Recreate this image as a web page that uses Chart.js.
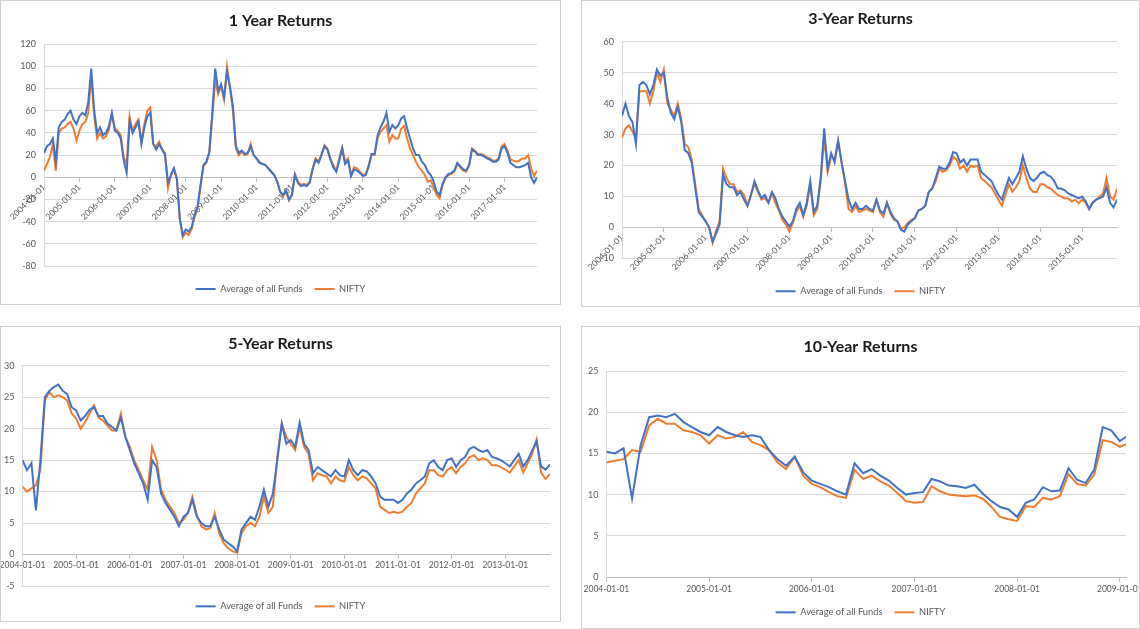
<!DOCTYPE html>
<html>
<head>
<meta charset="utf-8">
<script src="https://cdn.jsdelivr.net/npm/chart.js@4.4.0/dist/chart.umd.min.js"></script>
<style>
html,body{margin:0;padding:0;background:#fff;}
body{width:1140px;height:629px;position:relative;overflow:hidden;font-family:Lato,sans-serif;}
.panel{position:absolute;box-sizing:border-box;border:1px solid #d0d0d0;background:#fff;overflow:hidden;}
.panel canvas{display:block;}
</style>
</head>
<body>
<div class="panel" style="left:0;top:0;width:561px;height:305px"><canvas id="c1" width="559" height="303"></canvas></div>
<div class="panel" style="left:581px;top:0;width:559px;height:307px"><canvas id="c3" width="557" height="305"></canvas></div>
<div class="panel" style="left:0;top:326px;width:561px;height:296px"><canvas id="c5" width="559" height="294"></canvas></div>
<div class="panel" style="left:581px;top:326px;width:559px;height:303px"><canvas id="c10" width="557" height="301"></canvas></div>
<script>
// ---------- DATA (monthly readings, first value = January of start year) ----------
const seriesNames = ['Average of all Funds', 'NIFTY'];

// 1 Year Returns: 2004-01 .. 2017-12
const start1 = 2004;
const xLabels1 = ['2004-01-01','2005-01-01','2006-01-01','2007-01-01','2008-01-01','2009-01-01','2010-01-01','2011-01-01','2012-01-01','2013-01-01','2014-01-01','2015-01-01','2016-01-01','2017-01-01'];
const fund1 = [
  22,28,30,35,14,45,50,52,57,60,52,48,
  55,58,56,68,98,60,40,45,38,40,46,58,
  42,40,35,15,4,50,40,45,50,30,45,55,
  58,30,25,30,25,20,-5,2,8,-1,-37,-52,
  -47,-49,-45,-34,-27,-7,11,14,23,58,98,78,
  84,72,95,82,64,28,22,24,21,22,28,20,
  17,13,12,11,8,5,2,-4,-13,-16,-12,-20,
  -16,2,-5,-8,-7,-8,-5,7,16,13,20,28,
  25,16,9,5,15,26,12,15,1,7,6,4,
  1,2,10,21,21,38,45,50,58,41,47,44,
  47,53,55,44,35,26,20,20,14,11,5,2,
  -4,-13,-16,-6,0,3,4,6,13,10,7,6,
  11,25,23,20,20,19,17,16,14,14,16,26,
  28,22,13,11,9,9,10,11,13,0,-5,0
];
const nifty1 = [
  6,12,18,30,6,40,44,45,48,50,44,33,
  42,48,50,58,92,55,35,40,35,37,43,57,
  44,42,38,18,12,55,42,48,52,32,48,60,
  63,30,28,32,25,22,-10,2,8,-2,-38,-54,
  -50,-52,-47,-36,-28,-9,10,13,22,54,88,75,
  82,70,100,80,60,26,20,23,20,21,30,20,
  17,14,12,11,8,5,2,-4,-13,-17,-13,-21,
  -15,3,-4,-7,-6,-7,-4,8,17,14,21,29,
  26,17,11,6,17,27,14,17,2,9,8,5,
  2,3,11,21,20,35,41,44,47,32,38,35,
  35,44,46,35,26,20,14,9,6,2,-4,-3,
  -9,-16,-19,-7,-1,2,3,5,12,9,6,5,
  11,26,24,21,21,20,18,17,15,15,17,28,
  30,24,16,15,14,15,17,17,20,8,1,6
];

// 3-Year Returns: 2004-01 .. 2015-11
const start3 = 2004;
const xLabels3 = ['2004-01-01','2005-01-01','2006-01-01','2007-01-01','2008-01-01','2009-01-01','2010-01-01','2011-01-01','2012-01-01','2013-01-01','2014-01-01','2015-01-01'];
const fund3 = [
  36,40,36,34,27,46,47,46,43,46,51,49,
  50,42,37,35,39,34,25,24,21,13,5,3.5,
  2,0,-4.5,-2,1,17,14,13,13,10.5,11.5,9,
  7,10.5,15,12,9.5,10.5,8,11.5,9.5,6,3.5,2,
  0.3,2,6,8,4,8,15,5,7,16,32,19,
  24,21,28,21,15,9,6,8,6,6,7,6,
  5.5,9,5.5,4.5,8,5,3,2,-0.7,-1.3,1,2,
  3,5.5,6,7,11.5,12.6,16,19.6,19,19,21,24.4,
  24,21,22,20,22,22,22,18,17,16,15,12.6,
  10.5,9,12.6,16,14,16,18,23,19,16,15,16,
  17.5,18,17,16.4,15,12.6,12.6,12,11,10.5,10,9.4,
  10,8.5,6,8,9,9.5,10,13,8,6.5,9
];
const nifty3 = [
  29,32,33,31,29,44,44,44,40,44,50,47,
  51,40,38,36,40,35,27,26,22,14,6,4,
  2,0,-5,-1,2,19,16,14,14,11.5,12,10.5,
  7,10.5,14,11.5,9,9.5,8,11,8,5.5,2.5,1,
  -1.3,1.5,5,7,3.5,7,14,4,6,15,29,18,
  23,22,28,21,14,6,5,7,5,5.5,6,5.5,
  5,9,5,3.5,8,4.5,2.5,2,-0.2,0,1.5,2.5,
  3,5.5,6,7,11.5,12.6,15,19,18,18.5,20,22.8,
  22,19,20,18,20,19.6,20,16,15,14,13,11,
  9,7,10.5,14,11.5,13,15,20,16,12.6,11.5,11.5,
  14,14,13,12.6,11.5,10.5,10,9.4,9.4,8.4,9,7.8,
  9,8,6,8,9,10,11,16,10,9,12.5
];

// 5-Year Returns: 2004-01 .. 2013-11
const start5 = 2004;
const xLabels5 = ['2004-01-01','2005-01-01','2006-01-01','2007-01-01','2008-01-01','2009-01-01','2010-01-01','2011-01-01','2012-01-01','2013-01-01'];
const fund5 = [
  15,13.4,14.5,7,15,25,26,26.6,27,26,25.5,23.4,
  22.9,21.3,22,23,23.4,22,22,20.8,20.3,19.7,21.8,18.7,
  16.6,14.5,12.9,11.3,8.7,15,13.9,9.7,8.2,7.1,6,4.5,
  6,6.6,8.7,6,5,4.5,4.5,6,4,2.4,1.8,1.3,
  0.5,4,5,6,5.5,7.6,10.3,7.6,9.7,15,20.8,17.6,
  18.2,17.1,21,17.6,16.6,12.9,13.9,13.4,12.9,12.4,13.4,12.6,
  12.4,15,13.4,12.6,13.4,13.2,12.4,11.3,9.2,8.7,8.7,8.7,
  8.2,8.7,9.7,10.3,11.3,11.8,12.4,14.5,15,13.9,13.4,15,
  15.3,13.9,15,15.5,16.8,17.1,16.6,16.3,16.6,15.5,15.3,15,
  14.5,14,15,16,14,15,16.5,18,14,13.5,14.3
];
const nifty5 = [
  10.8,10,10.5,11,13.4,24.5,25.8,25,25.3,25,24.5,22.4,
  21.6,20,21,22.4,23.7,21.8,21.3,20.5,19.7,19.7,22.4,18.7,
  17.1,15,13.4,11.8,10.3,17.1,15,10.3,8.7,7.6,6.6,5,
  5.5,6.6,9.2,6.3,4.5,4,4.2,6.6,3.4,1.8,1,0.5,
  0.3,3.4,4.5,5,4.5,6,9.2,6.6,7.6,15.5,20.8,18.7,
  17.6,16.6,20.3,17.1,16,11.8,12.9,12.6,12.4,11.3,12.4,11.8,
  11.6,13.9,12.6,11.8,12.4,12.1,11.3,10.5,7.6,7.1,6.6,6.8,
  6.6,6.8,7.6,8.2,9.7,10.5,11.3,13.4,13.4,12.6,12.4,13.4,
  13.9,12.9,13.9,14.5,15.5,15.8,15,15.3,15,14.2,14.2,13.9,
  13.5,13,14,15,13,14.5,16,18.3,13,12,12.8
];

// 10-Year Returns: 2004-01 .. 2009-02
const start10 = 2004;
const xLabels10 = ['2004-01-01','2005-01-01','2006-01-01','2007-01-01','2008-01-01','2009-01-01'];
const fund10 = [
  15.2,15,15.6,9.5,16,19.4,19.6,19.4,19.8,18.8,18.2,17.6,
  17.2,18.2,17.6,17.2,17,17.2,17,15.4,14.3,13.5,14.6,12.7,
  11.7,11.3,10.9,10.4,10,13.8,12.6,13.1,12.3,11.7,10.8,10,
  10.2,10.3,11.9,11.6,11.1,11,10.8,11.2,10.1,9.2,8.5,8.2,
  7.3,9,9.4,10.9,10.4,10.5,13.2,11.8,11.4,13,18.2,17.8,
  16.5,17.2
];
const nifty10 = [
  13.9,14.1,14.3,15.4,15.2,18.4,19.2,18.6,18.6,17.8,17.6,17.2,
  16.2,17.2,16.8,17,17.6,16.4,16,15.4,13.9,13.1,14.6,12.3,
  11.3,10.9,10.3,9.8,9.6,13,11.9,12.3,11.6,11.1,10.2,9.2,
  9,9.1,11,10.4,10,9.9,9.8,9.9,9.5,8.5,7.3,7,
  6.8,8.6,8.5,9.6,9.4,9.8,12.5,11.3,11.1,12.4,16.6,16.4,
  15.8,16.2
];

// ---------- STYLE ----------
const BLUE = '#4472C4';
const ORANGE = '#ED7D31';
const TXT = '#595959';
Chart.defaults.font.family = 'Lato, "Noto Sans", sans-serif';

function buildPanel(id, s) {
  const pts = arr => arr.map((v, i) => ({x: s.start + i / 12, y: v}));
  const ds = (label, arr, color) => ({
    label: label, data: pts(arr), borderColor: color, backgroundColor: color,
    borderWidth: 2, pointRadius: 0, tension: 0, fill: false
  });
  return new Chart(document.getElementById(id), {
    type: 'line',
    data: { datasets: [ds(seriesNames[0], s.fund, BLUE), ds(seriesNames[1], s.nifty, ORANGE)] },
    options: {
      responsive: false, animation: false,
      layout: { padding: 0 },
      plugins: {
        title: { display: true, text: s.title, color: '#1a1a1a',
          font: { size: 16, weight: 'bold' }, padding: { top: s.tp, bottom: s.tb } },
        legend: {
          position: 'bottom',
          title: { display: true, text: '', font: { size: 1 }, padding: { top: s.lt, bottom: 0 } },
          labels: { usePointStyle: true, pointStyle: 'line', pointStyleWidth: 20, padding: 12,
            color: TXT, font: { size: 9.3 } }
        },
        tooltip: { enabled: false }
      },
      scales: {
        x: {
          type: 'linear', position: { y: 0 }, min: s.start, max: s.xmax,
          afterBuildTicks: sc => { sc.ticks = s.xLabels.map((_, i) => ({ value: s.start + i })); },
          afterFit: sc => { sc.paddingLeft = 0; sc.paddingRight = s.W - s.right; },
          ticks: { autoSkip: false, maxRotation: s.rot, minRotation: s.rot, padding: s.xpad,
            color: TXT, font: { size: 8.5 },
            callback: v => s.xLabels[Math.round(v - s.start)] },
          grid: { display: true, drawOnChartArea: false, drawTicks: true, tickLength: 4, color: '#bfbfbf' },
          border: { display: true, color: '#bfbfbf', width: 1 }
        },
        y: {
          min: s.ymin, max: s.ymax,
          afterFit: sc => { sc.width = s.left; sc.paddingTop = 0; sc.paddingBottom = s.H - s.bottom; },
          ticks: { stepSize: s.step, padding: 8, color: TXT, font: { size: 9 } },
          grid: { color: '#d9d9d9', drawTicks: false },
          border: { display: true, color: '#d9d9d9' }
        }
      }
    }
  });
}

buildPanel('c1', { title: '1 Year Returns', start: start1, xLabels: xLabels1, fund: fund1, nifty: nifty1,
  xmax: start1 + (fund1.length - 1) / 12, ymin: -80, ymax: 120, step: 20, rot: 45, xpad: 1,
  W: 559, H: 303, left: 43, right: 536, bottom: 265, tp: 10, tb: 14, lt: 5.2 });
buildPanel('c3', { title: '3-Year Returns', start: start3, xLabels: xLabels3, fund: fund3, nifty: nifty3,
  xmax: start3 + (fund3.length - 1) / 12, ymin: -10, ymax: 60, step: 10, rot: 45, xpad: 1,
  W: 557, H: 305, left: 40, right: 535, bottom: 258, tp: 8.7, tb: 12.8, lt: 15 });
buildPanel('c5', { title: '5-Year Returns', start: start5, xLabels: xLabels5, fund: fund5, nifty: nifty5,
  xmax: start5 + (fund5.length - 1) / 12, ymin: -5, ymax: 30, step: 5, rot: 0, xpad: 1.5,
  W: 559, H: 294, left: 21.5, right: 549, bottom: 260, tp: 7.7, tb: 11.8, lt: 2.5 });
buildPanel('c10', { title: '10-Year Returns', start: start10, xLabels: xLabels10, fund: fund10, nifty: nifty10,
  xmax: 2009.06, ymin: 0, ymax: 25, step: 5, rot: 0, xpad: 3.5,
  W: 557, H: 301, left: 24.4, right: 544, bottom: 250, tp: 10.1, tb: 14.7, lt: 17.5 });
</script>
</body>
</html>
